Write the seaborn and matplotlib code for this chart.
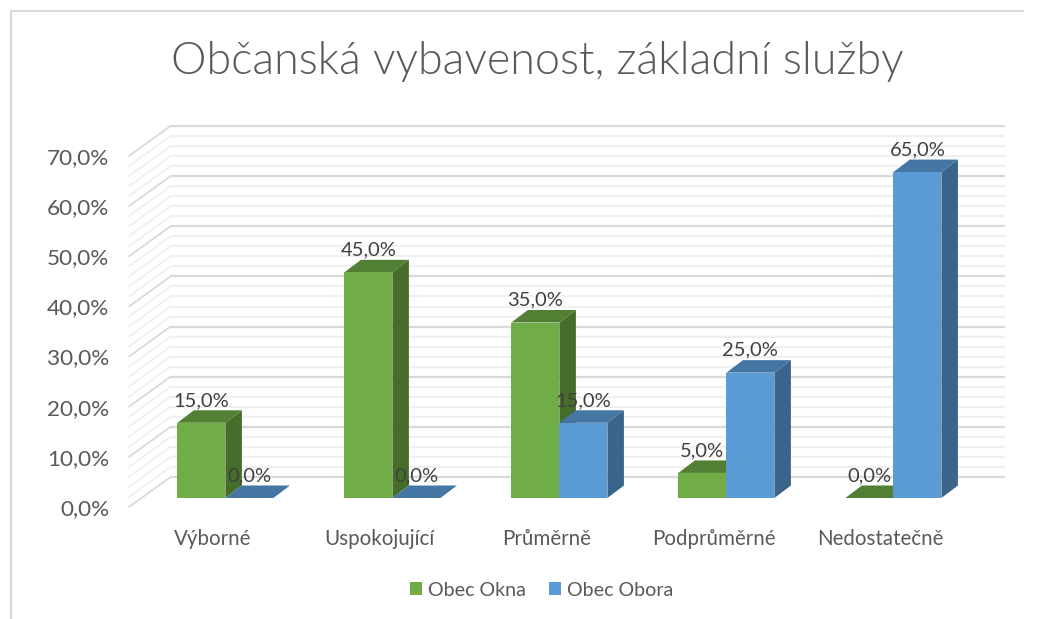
# Bar chart with an Excel style 3D look, the depth faces are built from the seaborn bars
import pandas as pd
import matplotlib.pyplot as plt
import matplotlib.transforms as mtrans
import matplotlib.font_manager as fm
from matplotlib.patches import Polygon
import seaborn as sns

# The data
categories = ['Výborné', 'Uspokojující', 'Průměrně', 'Podprůměrné', 'Nedostatečně']
okna_values = [15.0, 45.0, 35.0, 5.0, 0.0]
obora_values = [0.0, 0.0, 15.0, 25.0, 65.0]
series_names = ['Obec Okna', 'Obec Obora']
y_ticks = [0, 10, 20, 30, 40, 50, 60, 70]
minor_ticks = list(range(0, 71, 2))

W, H = 1050, 619
text_color = '#595959'
colors = ['#70AD47', '#5B9BD5']
top_colors = ['#527F33', '#4476A3']
side_colors = ['#476D2A', '#3A6489']

sns.set_theme(style='white')
plt.rcParams['font.family'] = ['Lato', 'DejaVu Sans']

df = pd.DataFrame({
    'category': categories * 2,
    'value': okna_values + obora_values,
    'series': [series_names[0]] * 5 + [series_names[1]] * 5,
})

fig = plt.figure(figsize=(W / 100, H / 100), dpi=100)
# The axes is the plane of the bar fronts, the walls are shifted from it in pixels
left, right, bottom, top = 141, 975.5, 498, 147
ax = fig.add_axes([left / W, 1 - bottom / H, (right - left) / W, (bottom - top) / H])

sns.barplot(data=df, x='category', y='value', hue='series', palette=colors,
            width=0.575, gap=0, saturation=1, linewidth=0, ax=ax, zorder=3)
ax.set_xlim((left - 225.4) / 167, (right - 225.4) / 167)
ax.set_ylim(0, 70)
ax.set_xlabel('')
ax.set_ylabel('')
sns.despine(ax=ax, left=True, bottom=True)


def data_per_pixel():
    p0 = ax.transData.inverted().transform((0, 0))
    p1 = ax.transData.inverted().transform((1, 1))
    return p1[0] - p0[0], p1[1] - p0[1]


px, py = data_per_pixel()
x_lo, x_hi = ax.get_xlim()

# Walls: front edge is (-12, +9) from the bars, back edge (+29.5, -21)
for v in minor_ticks:
    major = v in y_ticks
    c = '#D9D9D9' if major else '#F0F0F0'
    z = 1.5 if major else 1
    ax.plot([x_lo + 29.5 * px, x_hi + 29.5 * px], [v + 21 * py, v + 21 * py],
            color=c, lw=1.6, zorder=z, clip_on=False, solid_capstyle='butt')
    ax.plot([x_lo - 12 * px, x_lo + 29.5 * px], [v - 9 * py, v + 21 * py],
            color=c, lw=1.3, zorder=z, clip_on=False)

# Depth faces of each bar
depth_x, depth_y = 16.5 * px, 12.5 * py
for i, container in enumerate(ax.containers):
    base_z = 3 + i
    for bar in container:
        x0, x1 = bar.get_x(), bar.get_x() + bar.get_width()
        h = bar.get_height()
        bar.set_zorder(base_z + 0.5)
        ax.add_patch(Polygon([(x1, 0), (x1 + depth_x, depth_y), (x1 + depth_x, h + depth_y), (x1, h)],
                             closed=True, fc=side_colors[i], ec='none', zorder=base_z, clip_on=False))
        ax.add_patch(Polygon([(x0, h), (x0 + depth_x, h + depth_y), (x1 + depth_x, h + depth_y), (x1, h)],
                             closed=True, fc=top_colors[i], ec='none', zorder=base_z + 0.2, clip_on=False))
    ax.bar_label(container, labels=[f'{v:.1f}%'.replace('.', ',') for v in container.datavalues],
                 padding=10, fontsize=14.5, color='#404040', zorder=10)

# Axis labels
ax.set_yticks(y_ticks)
ax.set_yticklabels([f'{v:.1f}%'.replace('.', ',') for v in y_ticks])
ax.tick_params(axis='y', length=0, pad=23, labelsize=16.2, labelcolor=text_color)
ax.tick_params(axis='x', length=0, pad=22.5, labelsize=14.8, labelcolor=text_color)
down = mtrans.ScaledTranslation(0, -9 / 100, fig.dpi_scale_trans)
for label in ax.get_yticklabels():
    label.set_transform(label.get_transform() + down)
back = mtrans.ScaledTranslation(-13 / 100, 0, fig.dpi_scale_trans)
for label in ax.get_xticklabels():
    label.set_transform(label.get_transform() + back)

# Lato Light for the title, matplotlib's weight names pick the hairline cut
light_files = [f.fname for f in fm.fontManager.ttflist
               if f.name == 'Lato' and f.style == 'normal' and f.fname.endswith('Lato-Light.ttf')]
title_font = fm.FontProperties(fname=light_files[0]) if light_files else fm.FontProperties(family='Lato')
title_font.set_size(32.3)
fig.text(537 / W, 1 - 62 / H, 'Občanská vybavenost, základní služby', ha='center', va='center',
         fontproperties=title_font, color=text_color)

handles, labels = ax.get_legend_handles_labels()
ax.legend(handles, labels, ncols=2, loc='center', bbox_to_anchor=(541.5 / W, 1 - 590 / H),
          bbox_transform=fig.transFigure, frameon=False, fontsize=14.1, labelcolor=text_color,
          handlelength=0.62, handleheight=0.62, handletextpad=0.3, columnspacing=1.15)

# Frame of the chart area
fig.add_artist(plt.Line2D([10.5 / W, 10.5 / W], [0, 1 - 11 / H], color='#D9D9D9', lw=1.5))
fig.add_artist(plt.Line2D([10.5 / W, 1023 / W], [1 - 11 / H, 1 - 11 / H], color='#D9D9D9', lw=1.5))

fig.savefig('out.png', dpi=100)
